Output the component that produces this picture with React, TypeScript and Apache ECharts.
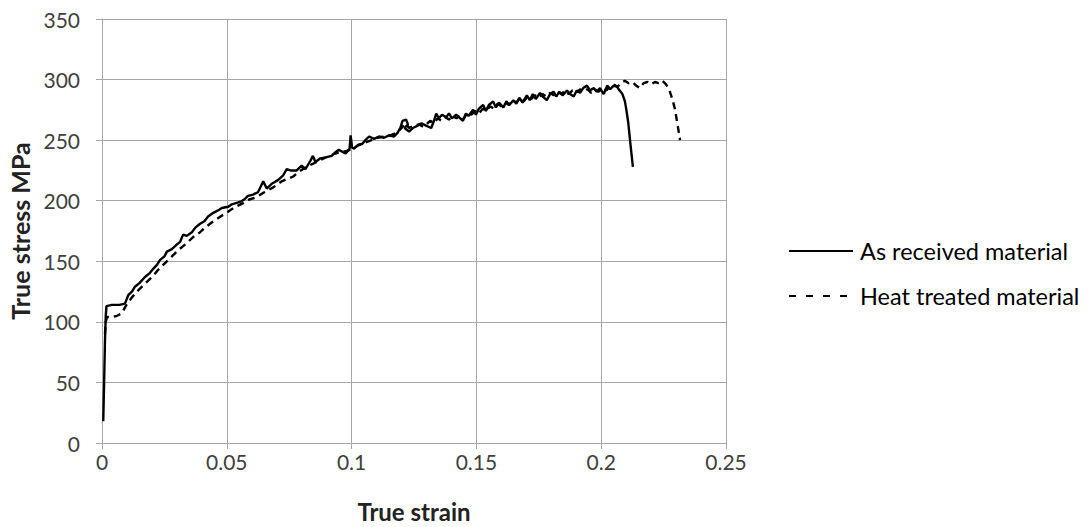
import React, { useEffect, useRef } from "react";
import * as echarts from "echarts";

const xTicks = [0, 0.05, 0.1, 0.15, 0.2, 0.25];
const yTicks = [0, 50, 100, 150, 200, 250, 300, 350];

const seriesNames = ["As received material", "Heat treated material"];

const asReceived: [number, number][] = [
  [0.0005, 18], [0.0009, 55], [0.0012, 85], [0.0015, 105], [0.0018, 113], [0.004, 114],
  [0.007, 114], [0.0092, 115], [0.0105, 122], [0.012, 125], [0.0132, 129], [0.015, 132],
  [0.0172, 137], [0.019, 140], [0.0206, 144], [0.022, 147], [0.0232, 151], [0.025, 154],
  [0.026, 158], [0.028, 160], [0.0295, 163], [0.0313, 166], [0.0325, 172], [0.034, 171],
  [0.036, 174], [0.0375, 178], [0.0393, 181], [0.041, 183], [0.0425, 187], [0.0446, 190],
  [0.0465, 192], [0.048, 194], [0.0506, 195], [0.052, 197], [0.0553, 199], [0.057, 201],
  [0.0585, 204], [0.0605, 205], [0.0625, 207], [0.0646, 216], [0.066, 210], [0.068, 214],
  [0.0705, 217], [0.0726, 221], [0.074, 226], [0.0755, 225], [0.078, 225], [0.08, 229],
  [0.0815, 226], [0.0835, 233], [0.0845, 237], [0.0855, 232], [0.0875, 235], [0.09, 236],
  [0.092, 237], [0.0935, 240], [0.0949, 242], [0.0976, 239], [0.0992, 243], [0.0996, 254],
  [0.1002, 244], [0.101, 243], [0.1025, 246], [0.1043, 247], [0.1055, 250], [0.107, 253],
  [0.109, 251], [0.111, 253], [0.113, 252], [0.115, 254], [0.117, 253], [0.1184, 256],
  [0.1195, 260], [0.1204, 266], [0.1218, 267], [0.1226, 263], [0.1212, 260], [0.1225, 258],
  [0.123, 257], [0.1245, 260], [0.1265, 262], [0.128, 264], [0.1298, 262], [0.1319, 260],
  [0.133, 266], [0.1339, 272], [0.135, 268], [0.1362, 271], [0.1379, 269], [0.139, 272],
  [0.1402, 268], [0.1419, 271], [0.143, 269], [0.1446, 266], [0.1458, 272], [0.1468, 270],
  [0.1487, 275], [0.1498, 271], [0.151, 276], [0.1527, 279], [0.1538, 274], [0.155, 279],
  [0.1567, 282], [0.1578, 277], [0.159, 281], [0.1608, 277], [0.162, 282], [0.1632, 279],
  [0.1648, 283], [0.166, 280], [0.1672, 285], [0.1685, 281], [0.1702, 287], [0.1714, 283],
  [0.1726, 288], [0.1738, 284], [0.1755, 289], [0.1766, 286], [0.1782, 283], [0.1795, 288],
  [0.1809, 290], [0.182, 286], [0.1832, 290], [0.1845, 287], [0.1863, 291], [0.1875, 288],
  [0.189, 286], [0.1902, 291], [0.1915, 289], [0.1928, 293], [0.1943, 295], [0.1955, 291],
  [0.197, 293], [0.1982, 290], [0.1995, 293], [0.201, 288], [0.2024, 295], [0.2036, 292],
  [0.205, 295], [0.2064, 294], [0.207, 292], [0.2085, 288], [0.2095, 282], [0.21, 276],
  [0.2108, 265], [0.2118, 245], [0.2127, 228],
];

const heatTreated: [number, number][] = [
  [0.0012, 90], [0.0014, 99], [0.002, 104], [0.004, 104], [0.006, 105], [0.0079, 107],
  [0.0095, 113], [0.0119, 120], [0.014, 125], [0.0165, 130], [0.0185, 134], [0.0205, 138],
  [0.0225, 143], [0.0245, 147], [0.0265, 151], [0.0285, 155], [0.031, 160], [0.034, 165],
  [0.0365, 170], [0.0393, 174], [0.042, 179], [0.0446, 183], [0.0475, 187], [0.0506, 191],
  [0.0535, 195], [0.0566, 198], [0.059, 201], [0.062, 203], [0.065, 207], [0.0686, 211],
  [0.072, 216], [0.0766, 220], [0.079, 224], [0.082, 228], [0.085, 231], [0.088, 234],
  [0.091, 237], [0.0935, 239], [0.0955, 240], [0.098, 241], [0.1005, 243], [0.103, 246],
  [0.1055, 248], [0.108, 250], [0.1105, 252], [0.113, 253], [0.1155, 254], [0.118, 256],
  [0.12, 260], [0.1215, 264], [0.123, 260], [0.125, 262], [0.127, 263], [0.1288, 261],
  [0.13, 263], [0.1315, 266], [0.133, 264], [0.1345, 268], [0.136, 266], [0.1375, 269],
  [0.139, 267], [0.1405, 270], [0.142, 268], [0.1435, 271], [0.145, 268], [0.1465, 273],
  [0.148, 271], [0.1495, 274], [0.151, 272], [0.1525, 276], [0.154, 274], [0.1555, 278],
  [0.157, 276], [0.1585, 280], [0.16, 278], [0.1615, 281], [0.163, 279], [0.1645, 283],
  [0.166, 281], [0.1675, 285], [0.169, 282], [0.1705, 286], [0.172, 284], [0.1735, 287],
  [0.175, 285], [0.1765, 288], [0.178, 286], [0.1795, 289], [0.181, 287], [0.1825, 290],
  [0.184, 288], [0.1855, 291], [0.187, 288], [0.1885, 291], [0.19, 289], [0.1915, 292],
  [0.193, 290], [0.1945, 292], [0.196, 289], [0.1975, 292], [0.199, 290], [0.2005, 293],
  [0.202, 291], [0.2035, 294], [0.205, 296], [0.2065, 294], [0.208, 297], [0.2095, 299],
  [0.211, 297], [0.2125, 298], [0.214, 295], [0.2155, 293], [0.217, 297], [0.2185, 298],
  [0.22, 296], [0.2215, 298], [0.223, 297], [0.2245, 299], [0.226, 296], [0.2268, 293],
  [0.2275, 290], [0.2285, 284], [0.2295, 276], [0.2305, 264], [0.2316, 250],
];

const FONT = "Lato, 'Noto Sans', sans-serif";

export default function App() {
  const ref = useRef<HTMLDivElement>(null);
  useEffect(() => {
    if (!ref.current) return;
    const chart = echarts.init(ref.current, undefined, { renderer: "svg" });
    const gridColor = "#a6a6a6";
    chart.setOption({
      animation: false,
      backgroundColor: "#fff",
      textStyle: { fontFamily: FONT },
      grid: { left: 102, right: 361, top: 19, bottom: 84, outerBoundsMode: "none", containLabel: false },
      legend: {
        orient: "vertical",
        left: 783,
        top: 234,
        itemWidth: 64,
        itemHeight: 24,
        itemGap: 21,
        itemStyle: { opacity: 0 },
        textStyle: { fontSize: 23.5, lineHeight: 24, color: "#000", fontFamily: FONT, padding: [0, 0, 0, 2] },
        data: [
          { name: seriesNames[0], lineStyle: { type: "solid", width: 2, color: "#000" } },
          { name: seriesNames[1], lineStyle: { type: [7, 10], width: 2, color: "#000" } },
        ],
      },
      xAxis: {
        type: "value",
        min: xTicks[0],
        max: xTicks[xTicks.length - 1],
        interval: 0.05,
        name: "True strain",
        nameLocation: "middle",
        nameGap: 56,
        nameTextStyle: { fontSize: 24, fontWeight: "bold", color: "#222", fontFamily: FONT },
        axisLine: { show: true, lineStyle: { color: gridColor } },
        axisTick: { show: true, length: 6, lineStyle: { color: gridColor } },
        axisLabel: {
          fontSize: 21,
          color: "#404040",
          margin: 8,
          formatter: (v: number) => String(parseFloat(v.toFixed(2))),
        },
        splitLine: { show: true, lineStyle: { color: gridColor, width: 1 } },
      },
      yAxis: {
        type: "value",
        min: yTicks[0],
        max: yTicks[yTicks.length - 1],
        interval: 50,
        name: "True stress MPa",
        nameLocation: "middle",
        nameGap: 66,
        nameRotate: 90,
        nameTextStyle: { fontSize: 25, fontWeight: "bold", color: "#222", fontFamily: FONT },
        axisLine: { show: true, lineStyle: { color: gridColor } },
        axisTick: { show: true, length: 6, lineStyle: { color: gridColor } },
        axisLabel: { fontSize: 21, color: "#404040", margin: 22 },
        splitLine: { show: true, lineStyle: { color: gridColor, width: 1 } },
      },
      series: [
        {
          name: seriesNames[0],
          type: "line",
          data: asReceived,
          symbol: "none",
          showSymbol: false,
          lineStyle: { color: "#000", width: 2.4 },
          itemStyle: { color: "#000" },
        },
        {
          name: seriesNames[1],
          type: "line",
          data: heatTreated,
          symbol: "none",
          showSymbol: false,
          lineStyle: { color: "#000", width: 2.4, type: [7, 5] },
          itemStyle: { color: "#000" },
        },
      ],
    });
    return () => chart.dispose();
  }, []);
  return (
    <div
      ref={ref}
      style={{ position: "fixed", left: 0, top: 0, width: 1087, height: 527 }}
    />
  );
}
